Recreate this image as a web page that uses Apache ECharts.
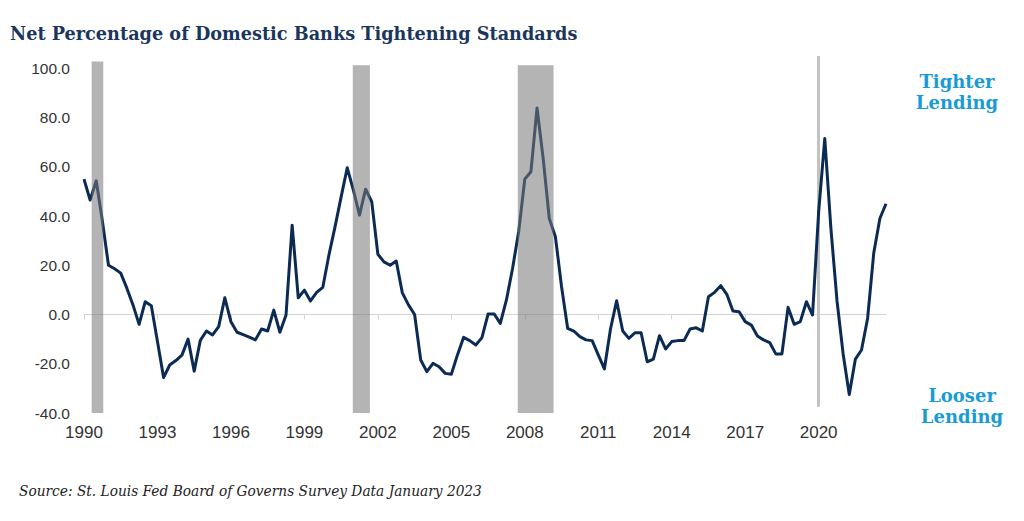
<!DOCTYPE html>
<html><head><meta charset="utf-8">
<script src="https://cdn.jsdelivr.net/npm/echarts@6/dist/echarts.min.js"></script>
<style>html,body{margin:0;padding:0;background:#fff}#c{width:1024px;height:521px}</style>
</head><body><div id="c"></div>
<script>
// Quarterly net percentage, first value = 1990 Q2, last = 2023 Q1
const firstYear = 1990;
const firstQuarter = 2;
const values = [
  55.0, 46.5, 54.3, 38.0, 20.0, 18.6, 16.8, 10.7, 3.9, -4.0,
  5.2, 3.6, -11.0, -25.6, -20.5, -18.7, -16.5, -10.0, -23.0, -10.5,
  -6.7, -8.3, -4.9, 6.8, -2.9, -7.2, -8.2, -9.2, -10.3, -5.9,
  -6.7, 1.8, -7.2, -0.2, 36.3, 6.8, 9.9, 5.5, 9.0, 11.0,
  24.1, 35.6, 47.8, 59.6, 50.5, 40.4, 50.9, 45.8, 24.5, 21.4,
  20.0, 21.7, 8.8, 3.9, 0.0, -18.5, -23.2, -19.8, -21.2, -23.9,
  -24.3, -16.4, -9.3, -10.6, -12.4, -9.4, 0.2, 0.2, -3.6, 5.9,
  18.7, 33.6, 55.0, 58.0, 83.9, 63.4, 39.0, 31.6, 11.4, -5.6,
  -6.7, -9.0, -10.3, -10.6, -16.4, -22.1, -5.9, 5.6, -6.7, -9.7,
  -7.4, -7.4, -19.2, -18.1, -8.6, -14.0, -11.0, -10.6, -10.6, -5.9,
  -5.4, -6.7, 7.2, 9.0, 11.7, 8.2, 1.4, 1.1, -2.9, -4.3,
  -8.7, -10.3, -11.4, -16.0, -16.0, 2.9, -4.0, -2.9, 5.2, -0.2,
  41.7, 71.5, 35.0, 5.5, -16.0, -32.5, -18.1, -14.4, -1.5, 25.0,
  39.0, 45.0
];
const xTickLabels = ['1990','1993','1996','1999','2002','2005','2008','2011','2014','2017','2020'];
const quartersPerTick = 12;
// recession shading in quarter-index units: [start, end, low, high]
const recessions = [
  [1.25, 3.15, -40, 102.8],
  [43.9, 46.7, -40, 101.2],
  [70.85, 76.7, -40, 101.2]
];
// 2020 recession marker: [quarter index, low, high]
const covidMarker = [120, -37.5, 105];
const titleText = 'Net Percentage of Domestic Banks Tightening Standards';
const sourceText = 'Source: St. Louis Fed Board of Governs Survey Data January 2023';
const tighterText = 'Tighter\nLending';
const looserText = 'Looser\nLending';

const quarterNames = values.map((_, i) => {
  const q = firstQuarter - 1 + i;
  return (firstYear + Math.floor(q / 4)) + ' Q' + (q % 4 + 1);
});
const lineData = values.map((v, i) => [i, v]);

function fitScale(text, font, target) {
  const ctx = document.createElement('canvas').getContext('2d');
  ctx.font = font;
  return target / ctx.measureText(text).width;
}
const titleFont = 'bold 19px "DejaVu Serif"';
const sourceFont = 'italic 15px "DejaVu Serif"';

const chart = echarts.init(document.getElementById('c'), null, {renderer: 'svg'});
const gridLeft = 84, gridRight = 138, gridTop = 56, gridBottom = 108;
chart.setOption({
  animation: false,
  backgroundColor: '#fff',
  grid: {left: gridLeft, right: gridRight, top: gridTop, bottom: gridBottom, containLabel: false},
  xAxis: [
    {
      type: 'value', min: 0, max: values.length - 1, interval: quartersPerTick,
      position: 'bottom',
      axisLine: {show: false, onZero: false},
      axisTick: {show: false},
      splitLine: {show: false},
      axisLabel: {
        showMaxLabel: false, margin: 11,
        fontFamily: '"Liberation Sans Narrow", "Arial Narrow", "Liberation Sans", sans-serif',
        fontSize: 17, color: '#333',
        formatter: v => xTickLabels[v / quartersPerTick] || ''
      }
    },
    {
      type: 'category', data: quarterNames, boundaryGap: false,
      position: 'bottom',
      axisLine: {show: true, onZero: true, lineStyle: {color: '#d4d4d4', width: 1}},
      axisTick: {show: true, interval: quartersPerTick - 1, length: 5, lineStyle: {color: '#d4d4d4', width: 1}},
      axisLabel: {show: false},
      splitLine: {show: false}
    }
  ],
  yAxis: {
    type: 'value', min: -40, max: covidMarker[2], interval: 20,
    axisLine: {show: false}, axisTick: {show: false}, splitLine: {show: false},
    axisLabel: {
      showMaxLabel: false, margin: 14,
      fontFamily: '"Liberation Sans", Arial, sans-serif', fontSize: 15.5, color: '#333',
      formatter: v => v.toFixed(1)
    }
  },
  series: [
    {
      type: 'line', data: lineData, xAxisIndex: 0, showSymbol: false, z: 1,
      lineStyle: {opacity: 0}, silent: true,
      markLine: {
        silent: true, z: 1, symbol: ['none', 'none'], label: {show: false},
        lineStyle: {color: '#c2c2c2', width: 3, type: 'solid'},
        data: [[{coord: [covidMarker[0], covidMarker[1]]}, {coord: [covidMarker[0], covidMarker[2]]}]]
      }
    },
    {
      type: 'line', data: lineData, xAxisIndex: 0, showSymbol: false, z: 2,
      lineStyle: {color: '#0b2b55', width: 3, join: 'round'}
    },
    {
      type: 'line', data: lineData, xAxisIndex: 0, showSymbol: false, z: 3,
      lineStyle: {opacity: 0}, silent: true,
      markArea: {
        silent: true, z: 10,
        itemStyle: {color: 'rgba(122,122,122,0.56)'},
        data: recessions.map(r => [{coord: [r[0], r[3]]}, {coord: [r[1], r[2]]}])
      }
    }
  ],
  graphic: [
    {type: 'text', x: 10, y: 33, scaleX: fitScale(titleText, titleFont, 568),
     style: {text: titleText, font: titleFont, fill: '#1b365d', textVerticalAlign: 'middle', textAlign: 'left'}},
    {type: 'text', x: 19, y: 491, scaleX: fitScale(sourceText, sourceFont, 463),
     style: {text: sourceText, font: sourceFont, fill: '#222', textVerticalAlign: 'middle', textAlign: 'left'}},
    {type: 'text', x: 957, y: 92,
     style: {text: tighterText, font: 'bold 18px "DejaVu Serif"', lineHeight: 21, fill: '#1a9bd7', textAlign: 'center', textVerticalAlign: 'middle'}},
    {type: 'text', x: 962, y: 406,
     style: {text: looserText, font: 'bold 18px "DejaVu Serif"', lineHeight: 21, fill: '#1a9bd7', textAlign: 'center', textVerticalAlign: 'middle'}}
  ]
});
</script></body></html>
